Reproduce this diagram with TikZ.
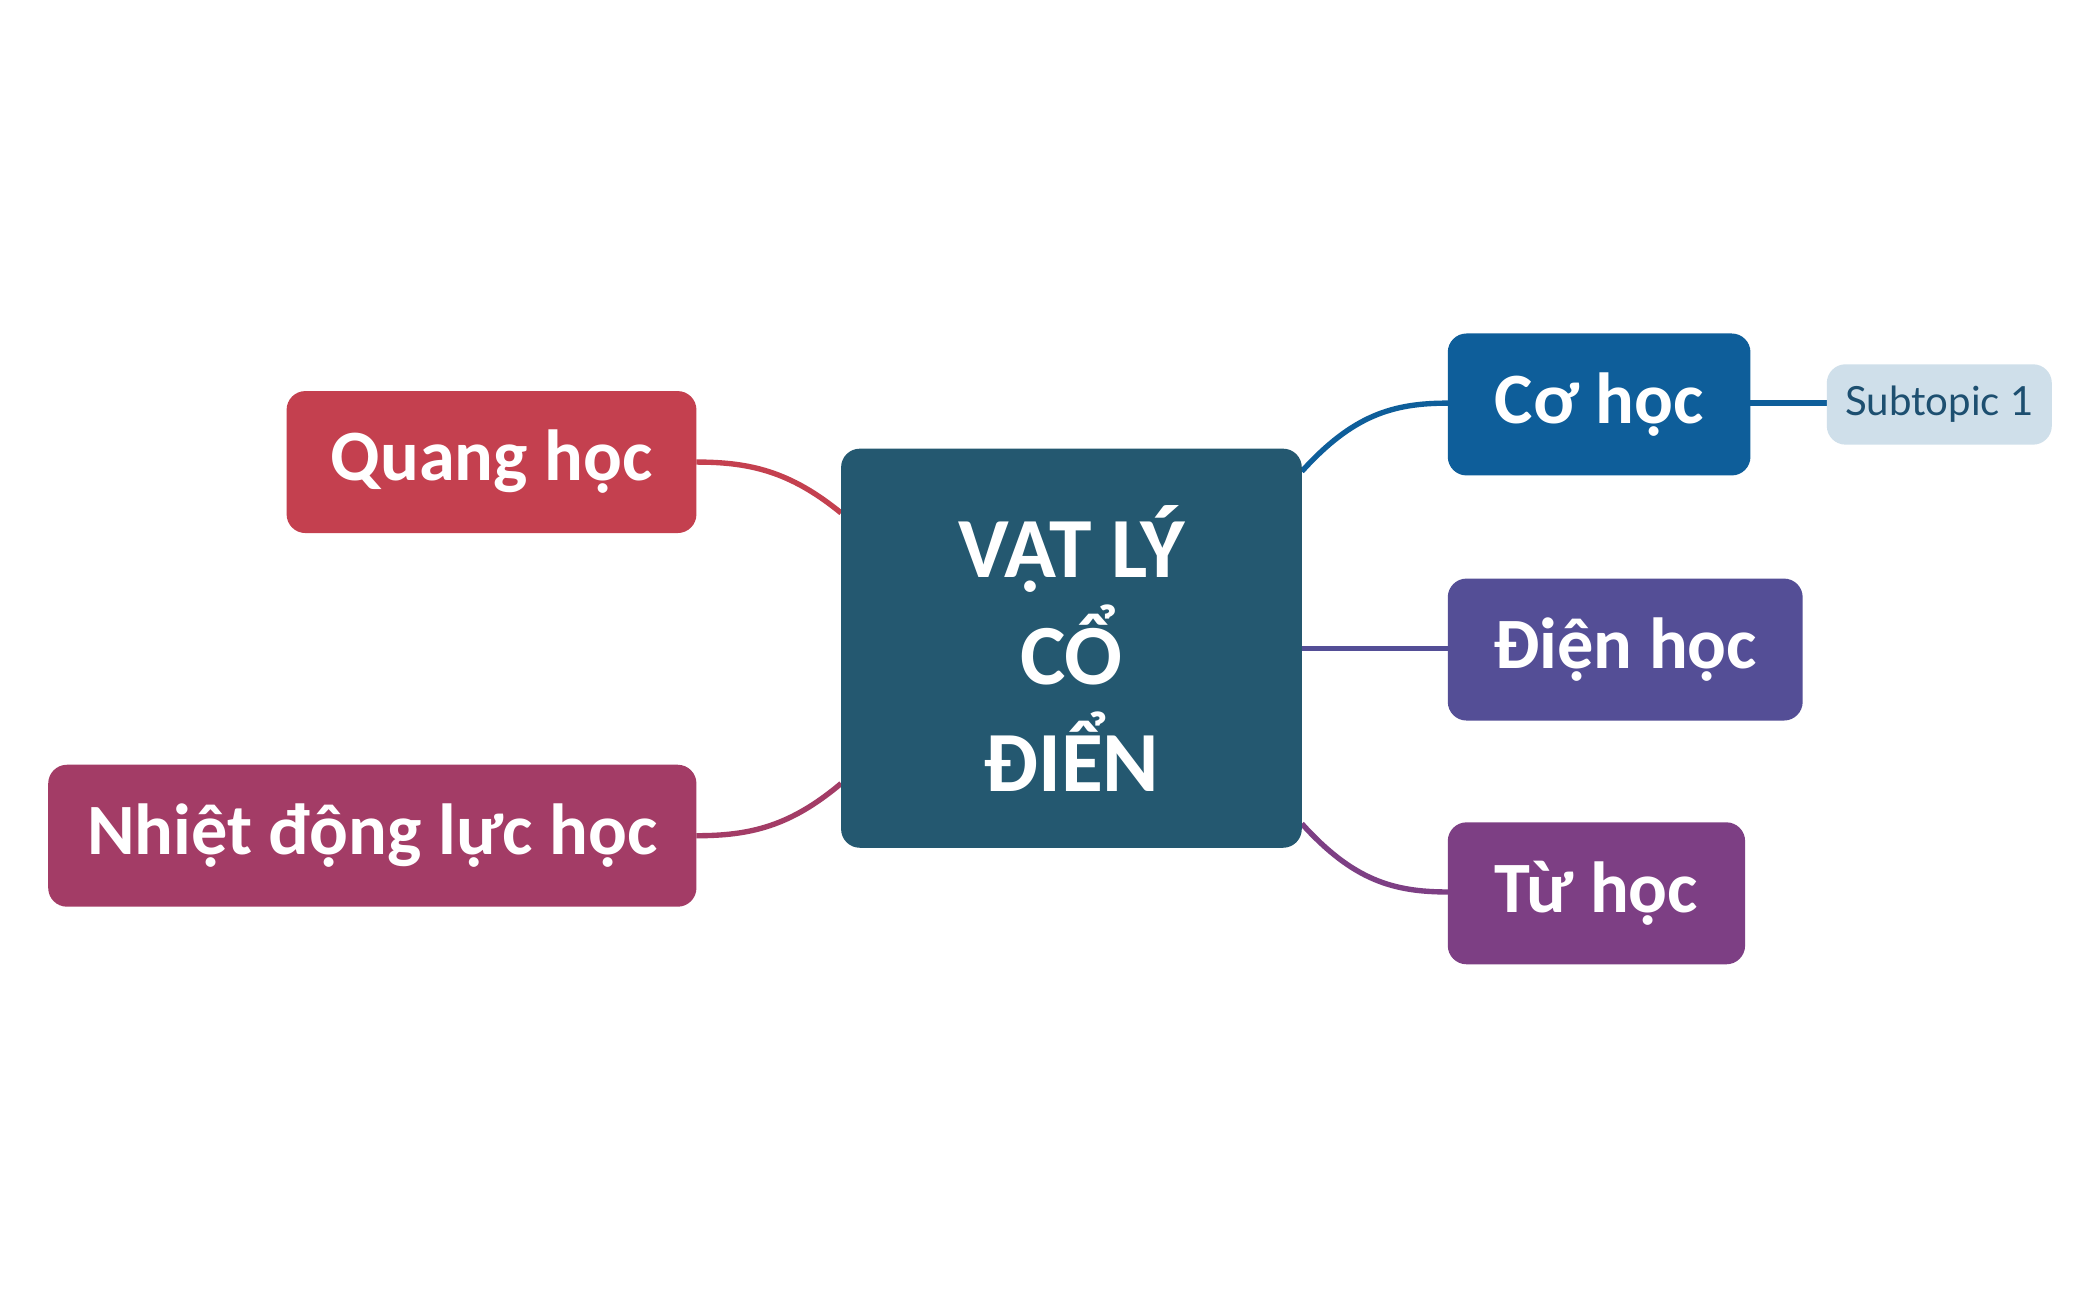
\documentclass[tikz,border=0pt]{standalone}
\usepackage{fontspec}
\setmainfont{Carlito}
\newfontfamily\subfont{Lato}
\definecolor{cmain}{HTML}{245870}
\definecolor{cco}{HTML}{0E5E9A}
\definecolor{csub}{HTML}{CFDFEA}
\definecolor{csubt}{HTML}{1D4F70}
\definecolor{cdien}{HTML}{544E96}
\definecolor{ctu}{HTML}{7D3F84}
\definecolor{cquang}{HTML}{C4404F}
\definecolor{cnhiet}{HTML}{A33C66}
\tikzset{
 box/.style={rounded corners=7pt,text=white,font=\bfseries\fontsize{27}{32}\selectfont,align=center,inner sep=0pt},
 link/.style={line width=2pt}
}
\begin{document}
\begin{tikzpicture}[x=0.5pt,y=-0.5pt]
\useasboundingbox (0,0) rectangle (1568,969);
\fill[white] (0,0) rectangle (1568,969);
% connectors first
\coordinate (c1) at (972,352); \coordinate (c2) at (628,383);
\coordinate (c3) at (628,585); \coordinate (c4) at (972,615);
\coordinate (cd) at (972,484);
\coordinate (co) at (1081,301); \coordinate (qu) at (520,345);
\coordinate (nh) at (520,624); \coordinate (tu) at (1081,666);
\coordinate (di) at (1081,484);
\draw[link,cco] (c1) .. controls (1010,310) and (1040,301) .. (co);
\draw[link,cquang] (c2) .. controls (590,352) and (560,345) .. (qu);
\draw[link,cnhiet] (c3) .. controls (590,617) and (560,624) .. (nh);
\draw[link,ctu] (c4) .. controls (1010,657) and (1040,666) .. (tu);
\draw[link,cdien] (cd) -- (di);
\draw[link,cco] (1307,301) -- (1364,301);
% nodes
\node[box,fill=cmain,minimum width=172pt,minimum height=149pt,font=\bfseries\fontsize{32}{40}\selectfont] (m) at (800,484) {VẬT LÝ\\CỔ\\ĐIỂN};
\node[box,fill=cco,minimum width=113pt,minimum height=53pt] (a) at (1194,302) {Cơ học};
\node[rounded corners=7pt,fill=csub,text=csubt,font=\subfont\fontsize{15}{18}\selectfont,minimum width=84pt,minimum height=30pt,inner sep=0pt] (s) at (1448,302) {Subtopic 1};
\node[box,fill=cdien,minimum width=132.5pt,minimum height=53pt] (b) at (1213.5,485) {Điện học};
\node[box,fill=ctu,minimum width=111pt,minimum height=53pt] (t) at (1192,667) {Từ học};
\node[box,fill=cquang,minimum width=153pt,minimum height=53pt] (q) at (367,345) {Quang học};
\node[box,fill=cnhiet,minimum width=242pt,minimum height=53pt] (n) at (278,624) {Nhiệt động lực học};
\end{tikzpicture}
\end{document}
